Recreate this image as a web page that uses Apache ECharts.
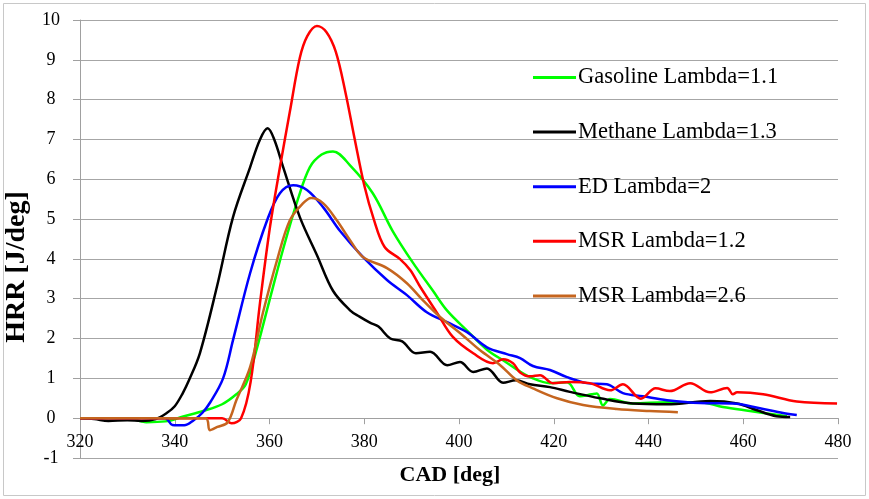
<!DOCTYPE html>
<html>
<head>
<meta charset="utf-8">
<script src="https://cdn.jsdelivr.net/npm/echarts@6/dist/echarts.min.js"></script>
<style>
html,body{margin:0;padding:0;background:#fff;}
#chart{width:869px;height:499px;}
</style>
</head>
<body>
<div id="chart"></div>
<script>
// ---- Data ----
var seriesNames = ['Gasoline Lambda=1.1', 'Methane Lambda=1.3', 'ED Lambda=2', 'MSR Lambda=1.2', 'MSR Lambda=2.6'];
var xTicks = [320, 340, 360, 380, 400, 420, 440, 460, 480];
var yTicks = [-1, 0, 1, 2, 3, 4, 5, 6, 7, 8, 9, 10];

var gasolineX = [320, 330, 334, 338, 342, 346, 350, 353, 355, 357.4, 360, 363, 366, 368.5, 371, 373.4, 377, 381.8, 386, 390.3, 394.5, 397.5, 401.7, 405.9, 410, 412.5, 415.6, 419.2, 422.8, 425.5, 428, 429.1, 430.4, 431.9, 436.7, 443.9, 450.9, 455.7, 461.4, 465, 469.2];
var gasolineY = [0, 0, -0.1, -0.08, 0.05, 0.18, 0.35, 0.6, 0.85, 1.78, 2.96, 4.3, 5.5, 6.3, 6.62, 6.7, 6.35, 5.65, 4.7, 3.9, 3.2, 2.7, 2.2, 1.72, 1.4, 1.2, 1.0, 0.88, 0.9, 0.55, 0.6, 0.62, 0.32, 0.48, 0.37, 0.4, 0.4, 0.28, 0.18, 0.12, 0.05];

var methaneX = [320, 323, 326, 330, 333, 336, 338.3, 340, 341.7, 343, 345.3, 348.9, 352.3, 355.9, 358, 359.6, 361, 362.9, 366.4, 370, 373.4, 377, 379, 381.2, 383, 385.5, 388, 390.9, 393.9, 397.5, 400.2, 403, 405.9, 409.3, 412, 415, 419.2, 423.4, 429.8, 436.7, 443.9, 453, 458.7, 462.9, 467, 469.9];
var methaneY = [0, -0.02, -0.07, -0.05, -0.07, -0.02, 0.13, 0.3, 0.63, 0.95, 1.63, 3.3, 5.05, 6.3, 7.0, 7.28, 7.0, 6.3, 5.05, 4.1, 3.2, 2.71, 2.55, 2.4, 2.3, 2.0, 1.93, 1.63, 1.67, 1.33, 1.41, 1.16, 1.25, 0.89, 0.95, 0.85, 0.78, 0.66, 0.5, 0.37, 0.35, 0.43, 0.37, 0.2, 0.05, 0.03];

var edX = [320, 338, 339.5, 342, 344, 345.8, 347.5, 350.2, 352.3, 355.9, 359.5, 362.2, 365, 367.9, 371.3, 374.9, 379.7, 384.8, 389, 393.2, 397.5, 401.7, 405.9, 410.1, 412.9, 415.6, 419.2, 422.8, 427, 431.2, 434.6, 438.8, 443.9, 450.9, 457.8, 463.5, 468.4, 471.3];
var edY = [0, 0, -0.17, -0.18, -0.05, 0.13, 0.4, 1.0, 1.96, 3.64, 4.97, 5.65, 5.85, 5.73, 5.3, 4.7, 4.05, 3.47, 3.09, 2.66, 2.41, 2.16, 1.78, 1.61, 1.51, 1.31, 1.21, 1.03, 0.88, 0.85, 0.63, 0.55, 0.45, 0.38, 0.37, 0.25, 0.13, 0.08];

var msr12X = [320, 350, 352, 354, 356, 358, 360.1, 362.2, 364.3, 366.4, 368, 370, 372, 374, 376, 378, 380, 382, 384.3, 387.5, 389.7, 391.8, 395.4, 398.7, 403, 407.2, 409.3, 411.4, 412.9, 415, 417.1, 419.8, 423.4, 427.6, 431.9, 434.6, 438.4, 441.5, 444.5, 448.8, 453, 456.6, 457.8, 458.7, 464.2, 471.3, 479.8];
var msr12Y = [0, 0, -0.13, 0.0, 0.9, 2.9, 4.8, 6.3, 7.7, 9.05, 9.6, 9.85, 9.7, 9.2, 8.2, 7.0, 5.85, 5.0, 4.3, 4.0, 3.72, 3.3, 2.64, 2.04, 1.63, 1.38, 1.48, 1.38, 1.15, 1.05, 1.08, 0.88, 0.91, 0.88, 0.7, 0.85, 0.49, 0.75, 0.68, 0.88, 0.65, 0.76, 0.6, 0.65, 0.6, 0.42, 0.37];

var msr26X = [320, 346.5, 347.4, 349, 351.2, 353, 355.9, 358.6, 361.6, 364.3, 367.1, 368.8, 371.3, 374.2, 377, 379.7, 384.8, 389, 392.4, 396, 400.2, 404.4, 408.7, 412.2, 415.6, 420.7, 426.2, 433.3, 440.3, 446.2];
var msr26Y = [0, 0, -0.3, -0.22, -0.1, 0.45, 1.28, 2.64, 3.97, 4.97, 5.4, 5.53, 5.4, 4.97, 4.47, 4.05, 3.77, 3.39, 2.96, 2.54, 2.14, 1.71, 1.33, 0.95, 0.75, 0.5, 0.33, 0.23, 0.18, 0.15];

var seriesX = [gasolineX, methaneX, edX, msr12X, msr26X];
var seriesY = [gasolineY, methaneY, edY, msr12Y, msr26Y];
var colors = ['#00ff00', '#000000', '#0000ff', '#ff0000', '#c5651f'];

function pairs(xs, ys) {
  var out = [];
  for (var i = 0; i < xs.length; i++) out.push([xs[i], ys[i]]);
  return out;
}

var FONT = '"Liberation Serif", "Times New Roman", serif';

var GRID_TOP = 20, GRID_BOTTOM = 41, H = 499;
var plotH = H - GRID_TOP - GRID_BOTTOM;
var yMin = yTicks[0], yMax = yTicks[yTicks.length - 1];
// the horizontal axis crosses the vertical one at 0, one unit above the bottom
var xAxisOffset = -plotH * (0 - yMin) / (yMax - yMin);

var chart = echarts.init(document.getElementById('chart'), null, {renderer: 'canvas'});

var series = seriesNames.map(function (name, i) {
  return {
    name: name,
    type: 'line',
    data: pairs(seriesX[i], seriesY[i]),
    smooth: 0.35,
    showSymbol: false,
    symbol: 'none',
    lineStyle: {color: colors[i], width: 2.5},
    itemStyle: {color: colors[i]},
    z: 2 + i,
    animation: false
  };
});

chart.setOption({
  animation: false,
  backgroundColor: '#ffffff',
  grid: {left: 80, right: 31, top: GRID_TOP, bottom: GRID_BOTTOM, containLabel: false, outerBoundsMode: 'none'},
  legend: {
    orient: 'vertical',
    left: 528,
    top: 61,
    itemWidth: 43,
    itemHeight: 3,
    itemGap: 31.6,
    icon: 'rect',
    textStyle: {fontFamily: FONT, fontSize: 22.5, color: '#000', padding: [0, 0, 0, -3]},
    data: seriesNames
  },
  xAxis: {
    type: 'value',
    min: xTicks[0],
    max: xTicks[xTicks.length - 1],
    interval: 20,
    offset: xAxisOffset,
    name: 'CAD [deg]',
    nameLocation: 'middle',
    nameGap: 46,
    nameTextStyle: {fontFamily: FONT, fontSize: 22, fontWeight: 'bold', color: '#000', padding: [0, 18, 0, 0]},
    axisLine: {onZero: false, lineStyle: {color: '#a0a0a0', width: 1}},
    axisTick: {show: true, inside: false, length: 6, lineStyle: {color: '#a0a0a0'}},
    axisLabel: {fontFamily: FONT, fontSize: 18, color: '#000', margin: 15},
    splitLine: {show: false}
  },
  yAxis: {
    type: 'value',
    min: yMin,
    max: yMax,
    interval: 1,
    name: 'HRR [J/deg]',
    nameLocation: 'middle',
    nameGap: 37,
    nameRotate: 90,
    nameTextStyle: {fontFamily: FONT, fontSize: 28, fontWeight: 'bold', color: '#000', padding: [0, 56, 0, 0]},
    axisLine: {show: true, onZero: false, lineStyle: {color: '#a0a0a0', width: 1}},
    axisTick: {show: true, inside: false, length: 7, lineStyle: {color: '#a0a0a0'}},
    axisLabel: {fontFamily: FONT, fontSize: 18, color: '#000', margin: 29, align: 'center'},
    splitLine: {show: true, lineStyle: {color: '#a6a6a6', width: 1}}
  },
  graphic: [{
    type: 'rect',
    shape: {x: 3.5, y: 3.5, width: 862, height: 492},
    style: {fill: 'none', stroke: '#c8c8c8', lineWidth: 1},
    silent: true,
    z: -1
  }],
  series: series
});
</script>
</body>
</html>
